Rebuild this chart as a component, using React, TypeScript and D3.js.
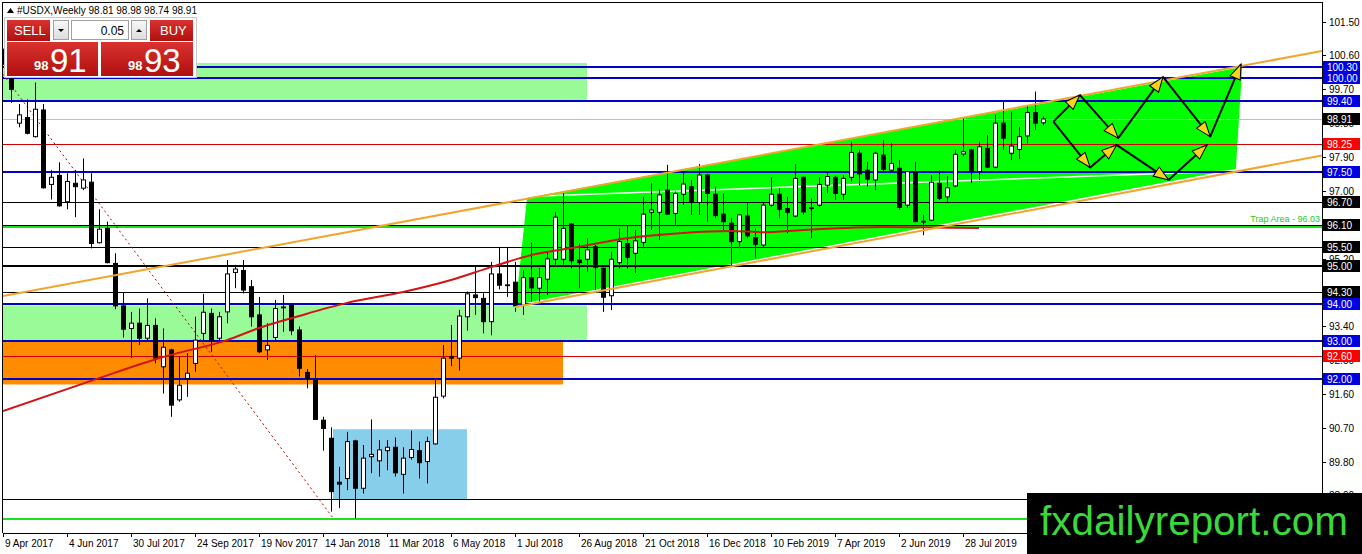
import React from 'react';
import * as d3 from 'd3';

// weekly candles, 9 Apr 2017 .. 6 Oct 2019  [open, high, low, close]
const weeklyOHLC: [number, number, number, number][] = [
  [100.60, 100.78, 100.35, 100.48], [100.48, 100.55, 99.34, 99.70], [98.80, 99.31, 98.69, 99.02],
  [98.95, 99.43, 98.50, 98.53], [98.44, 99.88, 98.42, 99.17], [99.15, 99.31, 97.06, 97.08],
  [97.17, 97.55, 96.77, 97.36], [97.41, 97.76, 96.58, 96.60], [96.71, 97.47, 96.51, 97.25],
  [97.20, 97.55, 96.30, 97.11], [97.07, 97.86, 97.02, 97.29], [97.23, 97.47, 95.47, 95.60],
  [95.62, 96.51, 95.60, 95.98], [96.00, 96.18, 95.07, 95.09], [95.07, 95.34, 93.85, 93.94],
  [93.94, 94.29, 93.10, 93.32], [93.34, 93.78, 92.55, 93.48], [93.48, 93.87, 92.90, 93.08],
  [93.08, 94.14, 93.03, 93.42], [93.42, 93.61, 92.41, 92.55], [92.32, 93.34, 91.61, 92.84],
  [92.77, 92.80, 90.99, 91.30], [91.44, 92.61, 91.39, 91.83], [92.01, 92.68, 91.52, 92.15],
  [92.41, 93.65, 92.19, 93.03], [93.21, 94.26, 93.03, 93.77], [93.74, 93.87, 92.72, 93.03],
  [93.08, 93.78, 92.99, 93.65], [93.78, 95.16, 93.48, 94.79], [94.83, 95.03, 94.41, 94.92],
  [94.88, 95.16, 94.27, 94.36], [94.45, 94.63, 93.39, 93.65], [93.70, 94.18, 92.68, 92.72],
  [92.77, 93.48, 92.50, 92.89], [93.10, 94.10, 93.03, 93.87], [93.89, 94.23, 93.25, 93.91],
  [93.96, 94.01, 93.16, 93.28], [93.30, 93.39, 92.06, 92.28], [92.17, 92.26, 91.75, 92.01],
  [91.99, 92.63, 90.92, 90.92], [90.90, 90.99, 90.09, 90.68], [90.42, 90.71, 88.47, 89.00],
  [89.25, 89.66, 88.56, 89.20], [89.35, 90.59, 89.04, 90.33], [90.35, 90.38, 88.29, 89.09],
  [89.09, 90.24, 88.95, 89.89], [89.93, 90.92, 89.49, 89.99], [89.82, 90.37, 89.40, 90.11],
  [90.09, 90.37, 89.57, 90.18], [90.18, 90.44, 89.40, 89.50], [89.46, 90.18, 88.95, 89.89],
  [89.91, 90.62, 89.85, 90.12], [90.09, 90.33, 89.35, 89.77], [89.80, 90.46, 89.22, 90.33],
  [90.27, 91.99, 90.25, 91.51], [91.54, 92.90, 91.48, 92.55], [92.59, 93.43, 92.34, 92.55],
  [92.55, 93.83, 92.22, 93.67], [93.65, 94.32, 93.28, 94.26], [94.23, 94.98, 93.70, 94.16],
  [94.14, 94.28, 93.21, 93.52], [93.52, 95.11, 93.16, 94.79], [94.79, 95.51, 94.38, 94.49],
  [94.48, 95.51, 94.18, 94.50], [94.57, 95.11, 93.78, 93.94], [93.96, 94.89, 93.70, 94.69],
  [94.69, 95.63, 94.05, 94.42], [94.41, 94.95, 94.05, 94.69], [94.65, 95.38, 94.23, 95.19],
  [95.18, 96.44, 95.03, 96.30], [95.18, 96.93, 95.03, 96.00], [96.12, 96.14, 94.94, 95.14],
  [95.16, 95.60, 94.41, 95.09], [95.18, 95.74, 94.85, 95.43], [95.51, 95.56, 94.36, 94.97],
  [94.94, 94.96, 93.78, 94.17], [94.21, 95.38, 93.83, 95.18], [95.09, 96.00, 94.94, 95.65],
  [95.60, 96.09, 94.94, 95.23], [95.34, 95.96, 94.81, 95.67], [95.63, 96.84, 95.47, 96.38],
  [96.43, 97.20, 95.96, 96.49], [96.43, 97.04, 95.69, 96.89], [97.02, 97.69, 96.36, 96.38],
  [96.40, 96.98, 96.09, 96.93], [96.91, 97.47, 96.62, 97.18], [97.11, 97.29, 96.36, 96.69],
  [96.69, 97.71, 96.36, 97.42], [97.42, 97.44, 96.18, 96.93], [96.91, 97.11, 96.28, 96.34],
  [96.38, 96.93, 95.91, 96.18], [96.14, 96.27, 95.03, 95.65], [95.65, 96.38, 95.47, 96.36],
  [96.33, 96.67, 95.74, 95.80], [95.76, 96.00, 95.20, 95.58], [95.56, 96.68, 95.48, 96.62],
  [96.62, 97.36, 96.58, 96.91], [96.91, 97.07, 96.27, 96.51], [96.53, 96.84, 95.87, 96.43],
  [96.33, 97.71, 96.30, 97.33], [97.36, 97.38, 96.36, 96.44], [96.53, 96.80, 95.74, 96.55],
  [96.62, 97.36, 96.58, 97.17], [97.15, 97.51, 96.93, 97.38], [97.36, 97.40, 96.76, 96.93],
  [96.91, 97.42, 96.76, 97.33], [97.36, 98.31, 97.24, 98.02], [98.00, 98.09, 97.15, 97.45],
  [97.55, 97.77, 97.11, 97.31], [97.29, 98.04, 97.02, 98.00], [97.95, 98.35, 97.51, 97.57],
  [97.55, 98.26, 97.53, 97.73], [97.60, 97.82, 96.49, 96.56], [96.62, 97.52, 96.54, 97.51],
  [97.51, 97.77, 96.17, 96.18], [96.17, 96.36, 95.82, 96.19], [96.22, 97.42, 96.20, 97.23],
  [97.20, 97.55, 96.76, 96.80], [96.84, 97.39, 96.67, 97.08], [97.13, 98.09, 97.10, 97.97],
  [97.98, 98.93, 97.91, 98.04], [98.09, 98.12, 97.20, 97.53], [97.51, 98.31, 97.29, 98.17],
  [98.13, 98.48, 97.60, 97.63], [97.63, 99.02, 97.60, 98.80], [98.80, 99.37, 98.09, 98.40],
  [98.00, 99.10, 97.82, 98.19], [98.10, 98.70, 97.84, 98.44], [98.46, 99.28, 98.26, 99.08],
  [99.08, 99.64, 98.62, 98.80], [98.81, 98.98, 98.74, 98.91],
];

const weekLabels = [
  '9 Apr 2017', '4 Jun 2017', '30 Jul 2017', '24 Sep 2017', '19 Nov 2017', '14 Jan 2018',
  '11 Mar 2018', '6 May 2018', '1 Jul 2018', '26 Aug 2018', '21 Oct 2018', '16 Dec 2018',
  '10 Feb 2019', '7 Apr 2019', '2 Jun 2019', '28 Jul 2019',
];

const priceTicks = [88.9, 89.8, 90.7, 91.6, 92.5, 93.4, 94.3, 95.2, 96.1, 97.0, 97.9, 98.8, 99.7, 100.6, 101.5];

// moving average, read at some weeks
const maWeeks = [0, 12, 20, 28, 32, 37, 43, 50, 56, 61, 66, 72, 78, 85, 91, 95, 100, 110, 122];
const maValues = [91.14, 92.02, 92.58, 93.03, 93.35, 93.67, 94.02, 94.31, 94.63, 94.97, 95.29, 95.51, 95.74, 95.88, 95.93, 95.90, 95.96, 96.04, 96.01];

const blueLevels = [100.3, 100.0, 99.4, 97.5, 94.0, 93.0, 92.0];
const blackLevels = [96.7, 96.1, 95.5, 94.3];
const thickBlackLevels = [95.0];
const redLevels = [98.25, 92.6];
const bidPrice = 98.91;
const askPrice = 98.93;
const trapLevel = 96.03;
const greenLowLevel = 88.28;
const plainLevel = 88.8;

// zones: [fromWeek, toWeek, top, bottom]
const paleGreenZones: [number, number, number, number][] = [[0, 73, 100.4, 99.4], [0, 73, 93.95, 93.0]];
const orangeZone: [number, number, number, number] = [0, 70, 93.0, 91.85];
const blueZone: [number, number, number, number] = [41.25, 58, 90.66, 88.8];

const channelArea: [number, number][] = [[65.5, 96.81], [64.1, 93.97], [154.1, 97.58], [154.9, 100.29]];
const upperTrend: [number, number][] = [[0, 94.2], [164.875, 100.72]];
const lowerTrend: [number, number][] = [[64, 93.91], [164.875, 97.94]];
const midLine: [number, number][] = [[67.1, 96.86], [154, 97.53]];
const fallLine: [number, number][] = [[0, 100.1], [41.25, 88.3]];

const upperPath: [number, number][] = [[131.3, 98.84], [134.6, 99.55], [139.4, 98.4], [145.0, 100.03], [150.9, 98.44], [154.75, 100.37]];
const lowerPath: [number, number][] = [[131.3, 98.84], [135.9, 97.62], [139.2, 98.22], [145.7, 97.29], [150.5, 98.22]];

const W = 1362;
const H = 554;
const L = 3, R = 1322, T = 2, B = 533;
const FONT = "'Liberation Sans', Arial, sans-serif";

export default function App() {
  const x = d3.scaleLinear().domain([0, 164.875]).range([L, R]);
  const y = d3.scaleLinear().domain([87.9, 101.995]).range([B, 3]);
  const line = d3.line<[number, number]>().x(d => x(d[0])).y(d => y(d[1]));
  const maLine = d3.line<number>().x((_, i) => x(maWeeks[i])).y(d => y(d)).curve(d3.curveMonotoneX);
  const crisp = (p: number) => Math.round(y(p)) + 0.5;

  const zoneRect = (z: [number, number, number, number], fill: string, key: string) => (
    <rect key={key} x={x(z[0])} y={y(z[2])} width={x(z[1]) - x(z[0])} height={y(z[3]) - y(z[2])} fill={fill} />
  );

  const hLine = (p: number, color: string, w: number, key: string) => {
    const yy = w % 2 === 1 ? crisp(p) : Math.round(y(p));
    return <line key={key} x1={L} x2={R} y1={yy} y2={yy} stroke={color} strokeWidth={w} />;
  };

  const boxes: [number, string][] = [
    ...blueLevels.map(p => [p, '#0000e6'] as [number, string]),
    ...blackLevels.map(p => [p, '#000'] as [number, string]),
    ...thickBlackLevels.map(p => [p, '#000'] as [number, string]),
    ...redLevels.map(p => [p, '#ff0000'] as [number, string]),
    [bidPrice, '#000'],
  ];

  const segments = (pts: [number, number][]) =>
    pts.slice(1).map((p, i) => [pts[i], p] as [number, number][]);

  return (
    <div style={{ position: 'fixed', left: 0, top: 0 }}>
      <svg width={W} height={H} style={{ display: 'block', background: '#fff' }} fontFamily={FONT}>
        <defs>
          <clipPath id="plot">
            <rect x={L} y={T} width={R - L} height={B - T} />
          </clipPath>
          <marker id="arrowHead" markerUnits="userSpaceOnUse" markerWidth={18} markerHeight={14}
            refX={16} refY={7} orient="auto">
            <path d="M1,1.5 L16,7 L1,12.5 Z" fill="#f8d21c" stroke="#000" strokeWidth={1} />
          </marker>
          <linearGradient id="redBtn" x1="0" y1="0" x2="0" y2="1">
            <stop offset="0" stopColor="#d8322f" />
            <stop offset="1" stopColor="#b0100f" />
          </linearGradient>
          <linearGradient id="grayBtn" x1="0" y1="0" x2="0" y2="1">
            <stop offset="0" stopColor="#f8f8f8" />
            <stop offset="1" stopColor="#dcdcdc" />
          </linearGradient>
        </defs>

        <g clipPath="url(#plot)">
          {paleGreenZones.map((z, i) => zoneRect(z, '#98fb98', 'pg' + i))}
          {zoneRect(orangeZone, '#ff8c00', 'or')}
          {zoneRect(blueZone, '#87ceeb', 'sb')}
          <path d={line(channelArea)! + 'Z'} fill="#00ff00" />
          <path d={line(midLine)!} stroke="#f4fff4" strokeWidth={1.5} fill="none" />

          {hLine(bidPrice, '#c0c0c0', 1, 'bid')}
          {redLevels.map((p, i) => hLine(p, '#d00000', 1, 'r' + i))}
          {blackLevels.map((p, i) => hLine(p, '#000', 1, 'k' + i))}
          {thickBlackLevels.map((p, i) => hLine(p, '#000', 2, 'kk' + i))}
          {hLine(plainLevel, '#000', 1, 'plain')}
          {hLine(trapLevel, '#1ee01e', 2, 'trap')}
          {hLine(greenLowLevel, '#1ee01e', 2, 'glow')}
          {blueLevels.map((p, i) => hLine(p, '#0000c8', 2, 'b' + i))}

          <path d={line(fallLine)!} stroke="#c00000" strokeWidth={1} strokeDasharray="2,3" fill="none" />

          {weeklyOHLC.map(([o, h, l, c], i) => {
            const cx = Math.round(x(i)) + 0.5;
            const top = y(Math.max(o, c));
            const bot = y(Math.min(o, c));
            const up = c >= o;
            return (
              <g key={'c' + i}>
                <line x1={cx} x2={cx} y1={y(h)} y2={y(l)} stroke="#000" strokeWidth={1} />
                <rect x={cx - 2} y={top} width={4} height={Math.max(bot - top, 0.8)}
                  fill={up ? '#fff' : '#000'} stroke="#000" strokeWidth={1} />
              </g>
            );
          })}

          <path d={maLine(maValues)!} stroke="#d41414" strokeWidth={2} fill="none" />
          <path d={line(upperTrend)!} stroke="#f2a52c" strokeWidth={2} fill="none" />
          <path d={line(lowerTrend)!} stroke="#f2a52c" strokeWidth={2} fill="none" />

          {[...segments(upperPath), ...segments(lowerPath)].map((s, i) => (
            <path key={'a' + i} d={line(s)!} stroke="#000" strokeWidth={2} fill="none" markerEnd="url(#arrowHead)" />
          ))}

          <text x={R - 2} y={y(trapLevel) - 5} fontSize={9} fill="#22cc22" textAnchor="end">Trap Area - 96.03</text>
        </g>

        {/* frame and axes */}
        <line x1={L - 0.5} x2={L - 0.5} y1={T} y2={B} stroke="#000" />
        <line x1={L} x2={R} y1={T + 0.5} y2={T + 0.5} stroke="#000" />
        <line x1={R + 0.5} x2={R + 0.5} y1={T} y2={B} stroke="#000" />
        <line x1={L} x2={R} y1={B + 0.5} y2={B + 0.5} stroke="#000" />

        {priceTicks.map((p, i) => (
          <g key={'pt' + i}>
            <line x1={R} x2={R + 4} y1={crisp(p)} y2={crisp(p)} stroke="#000" />
            <text x={R + 7} y={y(p) + 4} fontSize={10} fill="#000">{p.toFixed(2)}</text>
          </g>
        ))}

        {boxes.map(([p, color], i) => (
          <g key={'bx' + i}>
            <rect x={R + 1} y={Math.round(y(p)) - 6} width={37} height={12} fill={color} />
            <text x={R + 5} y={Math.round(y(p)) + 4} fontSize={10} fill="#fff">{p.toFixed(2)}</text>
          </g>
        ))}

        {weekLabels.map((t, i) => (
          <g key={'wl' + i}>
            <line x1={Math.round(x(i * 8)) + 0.5} x2={Math.round(x(i * 8)) + 0.5} y1={B} y2={B + 4} stroke="#000" />
            <text x={x(i * 8) + 2} y={547} fontSize={10} fill="#000">{t}</text>
          </g>
        ))}

        {/* header */}
        <path d="M7,13 L10.5,8 L14,13 Z" fill="#000" />
        <text x={17} y={14} fontSize={10} fill="#000">#USDX,Weekly  98.81 98.98 98.74 98.91</text>

        {/* trade panel */}
        <rect x={4.5} y={17.5} width={192} height={60} fill="#fff" stroke="#c8c8c8" />
        <rect x={7} y={20} width={43} height={21} fill="url(#redBtn)" />
        <text x={14} y={35} fontSize={13} fill="#fff">SELL</text>
        <rect x={53.5} y={20.5} width={15} height={19} fill="url(#grayBtn)" stroke="#a0a0a0" />
        <path d="M58,29 L64,29 L61,32 Z" fill="#000" />
        <rect x={71.5} y={20.5} width={57} height={19} fill="#fff" stroke="#a0a0a0" />
        <text x={124} y={35} fontSize={12} fill="#000" textAnchor="end">0.05</text>
        <rect x={131.5} y={20.5} width={15} height={19} fill="url(#grayBtn)" stroke="#a0a0a0" />
        <path d="M136,32 L142,32 L139,29 Z" fill="#000" />
        <rect x={150} y={20} width={43} height={21} fill="url(#redBtn)" />
        <text x={160} y={35} fontSize={13} fill="#fff">BUY</text>
        <rect x={7} y={42} width={91} height={34} fill="url(#redBtn)" />
        <rect x={101} y={42} width={92} height={34} fill="url(#redBtn)" />
        <text x={34} y={70} fontSize={13} fontWeight="bold" fill="#fff">{Math.floor(bidPrice)}</text>
        <text x={50} y={72} fontSize={33} fill="#fff">{Math.round((bidPrice % 1) * 100)}</text>
        <text x={128} y={70} fontSize={13} fontWeight="bold" fill="#fff">{Math.floor(askPrice)}</text>
        <text x={144} y={72} fontSize={33} fill="#fff">{Math.round((askPrice % 1) * 100)}</text>

        {/* logo */}
        <rect x={1027} y={493} width={W - 1027} height={H - 493} fill="#000" />
        <text x={1040} y={535} fontSize={40} fill="#3ad83a" textLength={308} lengthAdjust="spacingAndGlyphs">fxdailyreport.com</text>
      </svg>
    </div>
  );
}
